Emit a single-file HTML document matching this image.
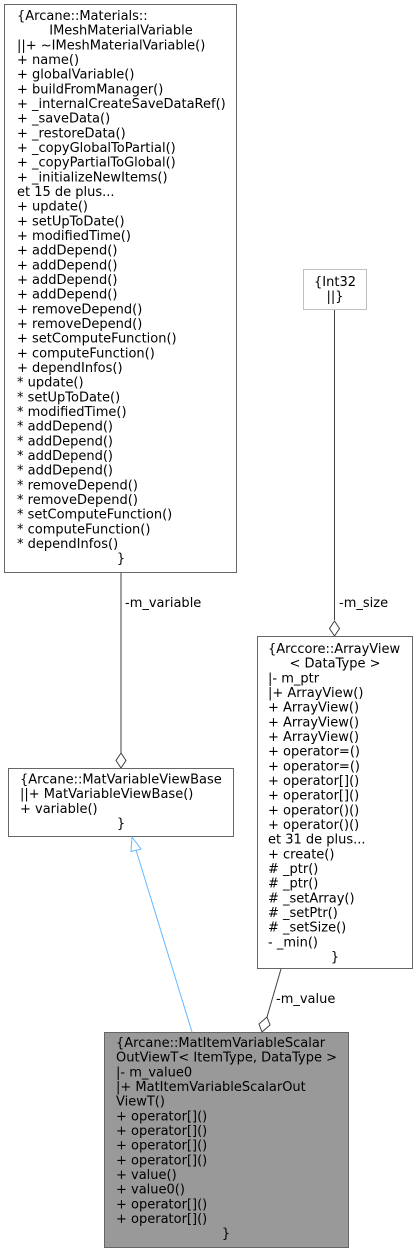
<!DOCTYPE html>
<html><head><meta charset="utf-8"><style>
html,body{margin:0;padding:0;background:#fff;}
svg{display:block;}
text{font-family:"DejaVu Sans","Liberation Sans",sans-serif;font-size:13px;fill:#000;}
</style></head><body>
<svg width="417" height="1253" viewBox="0 0 417 1253" xmlns="http://www.w3.org/2000/svg">
<rect x="4.5" y="4.5" width="232" height="568" fill="#fff" stroke="#666" stroke-width="1"/>
<g>
<text x="17" y="20">{Arcane::Materials::</text>
<text x="121" y="34.7" text-anchor="middle">IMeshMaterialVariable</text>
<text x="17" y="49.3">||+ ~IMeshMaterialVariable()</text>
<text x="17" y="64">+ name()</text>
<text x="17" y="78.7">+ globalVariable()</text>
<text x="17" y="93.3">+ buildFromManager()</text>
<text x="17" y="108">+ _internalCreateSaveDataRef()</text>
<text x="17" y="122.7">+ _saveData()</text>
<text x="17" y="137.3">+ _restoreData()</text>
<text x="17" y="152">+ _copyGlobalToPartial()</text>
<text x="17" y="166.7">+ _copyPartialToGlobal()</text>
<text x="17" y="181.3">+ _initializeNewItems()</text>
<text x="17" y="196">et 15 de plus...</text>
<text x="17" y="210.7">+ update()</text>
<text x="17" y="225.3">+ setUpToDate()</text>
<text x="17" y="240">+ modifiedTime()</text>
<text x="17" y="254.7">+ addDepend()</text>
<text x="17" y="269.3">+ addDepend()</text>
<text x="17" y="284">+ addDepend()</text>
<text x="17" y="298.7">+ addDepend()</text>
<text x="17" y="313.3">+ removeDepend()</text>
<text x="17" y="328">+ removeDepend()</text>
<text x="17" y="342.7">+ setComputeFunction()</text>
<text x="17" y="357.3">+ computeFunction()</text>
<text x="17" y="372">+ dependInfos()</text>
<text x="17" y="386.7">* update()</text>
<text x="17" y="401.3">* setUpToDate()</text>
<text x="17" y="416">* modifiedTime()</text>
<text x="17" y="430.7">* addDepend()</text>
<text x="17" y="445.3">* addDepend()</text>
<text x="17" y="460">* addDepend()</text>
<text x="17" y="474.7">* addDepend()</text>
<text x="17" y="489.3">* removeDepend()</text>
<text x="17" y="504">* removeDepend()</text>
<text x="17" y="518.7">* setComputeFunction()</text>
<text x="17" y="533.3">* computeFunction()</text>
<text x="17" y="548">* dependInfos()</text>
<text x="121" y="562.7" text-anchor="middle">}</text>
</g>
<rect x="303.5" y="269.5" width="63" height="40" fill="#fff" stroke="#bfbfbf" stroke-width="1"/>
<text x="335" y="286" text-anchor="middle">{Int32</text>
<text x="335" y="300.7" text-anchor="middle">||}</text>
<line x1="121" y1="573" x2="121" y2="753" stroke="#404040" stroke-width="1"/>
<polygon points="121,753 126,760.5 121,768 116,760.5" fill="#fff" stroke="#404040" stroke-width="1"/>
<text x="125" y="607">-m_variable</text>
<line x1="334.5" y1="310" x2="334.5" y2="620" stroke="#404040" stroke-width="1"/>
<polygon points="334.5,621 339.5,628.5 334.5,636 329.5,628.5" fill="#fff" stroke="#404040" stroke-width="1"/>
<text x="339" y="607">-m_size</text>
<rect x="8.5" y="768.5" width="225" height="68" fill="#fff" stroke="#666" stroke-width="1"/>
<text x="20" y="783.5">{Arcane::MatVariableViewBase</text>
<text x="20" y="798.2">||+ MatVariableViewBase()</text>
<text x="20" y="812.8">+ variable()</text>
<text x="121" y="827.5" text-anchor="middle">}</text>
<rect x="257.5" y="636.5" width="155" height="332" fill="#fff" stroke="#666" stroke-width="1"/>
<g>
<text x="268" y="653">{Arccore::ArrayView</text>
<text x="335" y="667.7" text-anchor="middle">&lt; DataType &gt;</text>
<text x="268" y="682.3">|- m_ptr</text>
<text x="268" y="697">|+ ArrayView()</text>
<text x="268" y="711.7">+ ArrayView()</text>
<text x="268" y="726.3">+ ArrayView()</text>
<text x="268" y="741">+ ArrayView()</text>
<text x="268" y="755.7">+ operator=()</text>
<text x="268" y="770.3">+ operator=()</text>
<text x="268" y="785">+ operator[]()</text>
<text x="268" y="799.7">+ operator[]()</text>
<text x="268" y="814.3">+ operator()()</text>
<text x="268" y="829">+ operator()()</text>
<text x="268" y="843.7">et 31 de plus...</text>
<text x="268" y="858.3">+ create()</text>
<text x="268" y="873"># _ptr()</text>
<text x="268" y="887.7"># _ptr()</text>
<text x="268" y="902.3"># _setArray()</text>
<text x="268" y="917"># _setPtr()</text>
<text x="268" y="931.7"># _setSize()</text>
<text x="268" y="946.3">- _min()</text>
<text x="335" y="961" text-anchor="middle">}</text>
</g>
<line x1="281" y1="969" x2="267" y2="1017" stroke="#404040" stroke-width="1"/>
<polygon points="267,1017 270,1025 262,1032 259,1024" fill="#fff" stroke="#404040" stroke-width="1"/>
<text x="276" y="1003">-m_value</text>
<line x1="192" y1="1032" x2="136" y2="850" stroke="#63b8ff" stroke-width="1"/>
<polygon points="132,837 141,849 131,851.5" fill="#fff" stroke="#63b8ff" stroke-width="1"/>
<rect x="104.5" y="1032.5" width="244" height="215" fill="#999" stroke="#666" stroke-width="1"/>
<g>
<text x="116" y="1047">{Arcane::MatItemVariableScalar</text>
<text x="116" y="1061.7">OutViewT&lt; ItemType, DataType &gt;</text>
<text x="116" y="1076.3">|- m_value0</text>
<text x="116" y="1091">|+ MatItemVariableScalarOut</text>
<text x="116" y="1105.7">ViewT()</text>
<text x="116" y="1120.3">+ operator[]()</text>
<text x="116" y="1135">+ operator[]()</text>
<text x="116" y="1149.7">+ operator[]()</text>
<text x="116" y="1164.3">+ operator[]()</text>
<text x="116" y="1179">+ value()</text>
<text x="116" y="1193.7">+ value0()</text>
<text x="116" y="1208.3">+ operator[]()</text>
<text x="116" y="1223">+ operator[]()</text>
<text x="226" y="1237.7" text-anchor="middle">}</text>
</g>
</svg>
</body></html>
